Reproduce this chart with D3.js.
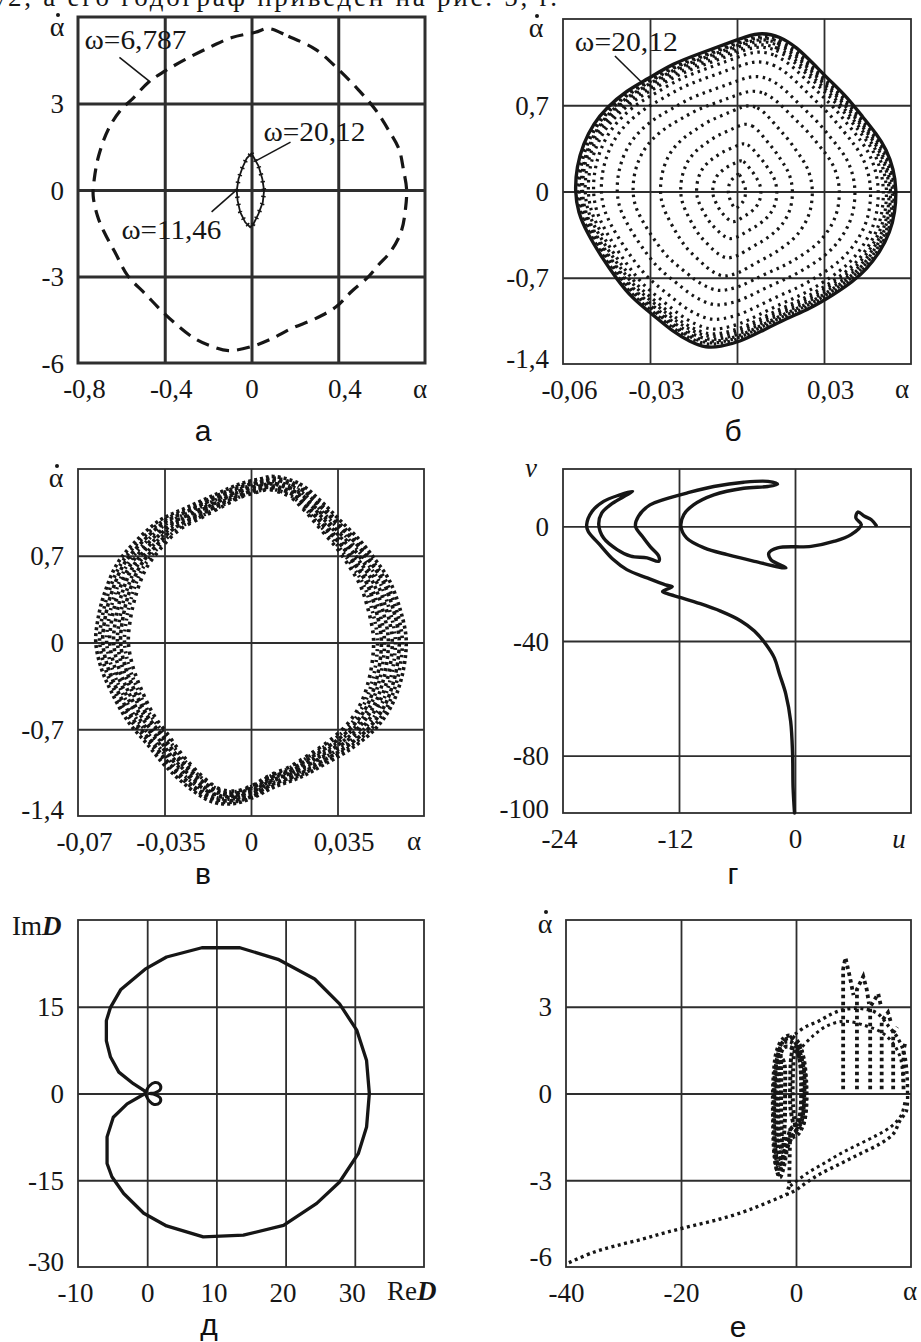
<!DOCTYPE html>
<html>
<head>
<meta charset="utf-8">
<script src="https://cdn.jsdelivr.net/npm/d3@7"></script>
<style>
  body { margin: 0; background: #fff; }
  svg { display: block; }
</style>
</head>
<body>
<svg id="fig" width="921" height="1342"></svg>
<script>
// ---------- panel а : phase portraits for ω=6,787 (dashed) and ω=20,12 / 11,46 (inner) ----------
const aXTicks = [-0.8, -0.4, 0, 0.4];
const aXLabels = ["-0,8", "-0,4", "0", "0,4"];
const aYTicks = [-6, -3, 0, 3];
const aYLabels = ["-6", "-3", "0", "3"];
const aOuter = [
  [0.078,5.6],[0.17,5.33],[0.295,4.88],[0.40,4.19],[0.49,3.5],[0.57,2.8],[0.63,2.1],[0.68,1.42],
  [0.70,0.73],[0.715,0.03],[0.71,-0.66],[0.69,-1.45],[0.64,-2.15],[0.585,-2.6],[0.54,-3.0],[0.46,-3.53],
  [0.39,-4.05],[0.295,-4.46],[0.185,-4.8],[0.092,-5.16],[0.0,-5.43],[-0.106,-5.57],[-0.18,-5.43],
  [-0.26,-5.16],[-0.35,-4.64],[-0.415,-4.19],[-0.49,-3.6],[-0.57,-2.98],[-0.63,-2.15],[-0.68,-1.45],
  [-0.71,-0.9],[-0.73,-0.2],[-0.725,0.38],[-0.705,1.18],[-0.66,2.11],[-0.6,2.8],[-0.55,3.15],
  [-0.475,3.74],[-0.4,4.12],[-0.305,4.53],[-0.185,4.98],[-0.09,5.29],[0.018,5.47]
];
const aInner = [
  [0,1.27],[0.032,0.84],[0.05,0.38],[0.058,-0.02],[0.052,-0.43],[0.032,-0.83],[0.009,-1.18],
  [-0.006,-1.29],[-0.029,-1.12],[-0.052,-0.77],[-0.064,-0.37],[-0.068,-0.02],[-0.06,0.38],
  [-0.041,0.79],[-0.022,1.1]
];
// label text, text anchor (data units), leader from -> to (data units)
const aNotes = [
  { text: "ω=6,787", at: [-0.77, 4.88], from: [-0.609, 4.6], to: [-0.466, 3.74] },
  { text: "ω=20,12", at: [0.055, 1.7], from: [0.18, 1.66], to: [0.018, 1.0] },
  { text: "ω=11,46", at: [-0.6, -1.7], from: [-0.184, -0.76], to: [-0.074, -0.03] }
];

// ---------- panel б : spiral winding onto the ω=20,12 cycle ----------
const bXTicks = [-0.06, -0.03, 0, 0.03];
const bXLabels = ["-0,06", "-0,03", "0", "0,03"];
const bYTicks = [-1.4, -0.7, 0, 0.7];
const bYLabels = ["-1,4", "-0,7", "0", "0,7"];
const bOuter = [
  [0.0085,1.29],[0.0148,1.26],[0.0206,1.17],[0.0262,1.04],[0.032,0.90],[0.0378,0.77],[0.0435,0.60],
  [0.048,0.47],[0.0516,0.34],[0.054,0.18],[0.055,0.016],[0.0545,-0.17],[0.0528,-0.33],[0.0493,-0.49],
  [0.0447,-0.63],[0.040,-0.73],[0.0331,-0.84],[0.0252,-0.95],[0.0171,-1.03],[0.0079,-1.14],
  [0.001,-1.22],[-0.0059,-1.26],[-0.0105,-1.27],[-0.0162,-1.22],[-0.022,-1.14],[-0.029,-1.0],
  [-0.036,-0.87],[-0.0415,-0.71],[-0.047,-0.52],[-0.0518,-0.33],[-0.0548,-0.17],[-0.0559,0],
  [-0.0553,0.2],[-0.053,0.39],[-0.0495,0.55],[-0.045,0.68],[-0.038,0.82],[-0.031,0.91],
  [-0.022,1.04],[-0.0128,1.12],[-0.0036,1.2],[0.0033,1.26]
];
// half-widths along α and half-heights along α̇ of the successive turns
const bTurnsX = [0.003, 0.0084, 0.014, 0.0195, 0.0265, 0.036, 0.0415, 0.047, 0.0497, 0.0515, 0.0526, 0.0535, 0.054, 0.0547, 0.0553];
const bTurnsY = [0.14, 0.25, 0.39, 0.55, 0.70, 0.82, 0.94, 1.06, 1.14, 1.18, 1.20, 1.225, 1.24, 1.255, 1.265];
const bNote = { text: "ω=20,12", at: [-0.0559, 1.142], from: [-0.0421, 1.10], to: [-0.0328, 0.885] };

// ---------- panel в : band of turns ----------
const cXTicks = [-0.07, -0.035, 0, 0.035];
const cXLabels = ["-0,07", "-0,035", "0", "0,035"];
const cYTicks = [-1.4, -0.7, 0, 0.7];
const cYLabels = ["-1,4", "-0,7", "0", "0,7"];
const cOuter = [
  [0.009,1.34],[0.0197,1.28],[0.0278,1.15],[0.0358,0.99],[0.0438,0.83],[0.0506,0.66],[0.056,0.50],
  [0.060,0.29],[0.0626,0.07],[0.0626,-0.09],[0.0606,-0.31],[0.0566,-0.52],[0.0506,-0.69],
  [0.041,-0.85],[0.030,-0.98],[0.0197,-1.09],[0.009,-1.17],[0.001,-1.25],[-0.0071,-1.30],
  [-0.0152,-1.29],[-0.0232,-1.20],[-0.034,-1.01],[-0.042,-0.82],[-0.050,-0.63],[-0.0567,-0.39],
  [-0.0607,-0.2],[-0.0628,0.0],[-0.062,0.18],[-0.0594,0.39],[-0.054,0.64],[-0.046,0.83],
  [-0.0366,0.99],[-0.0259,1.09],[-0.0138,1.20],[-0.0044,1.28],[0.0036,1.32]
];
const cTurnsX = [1, 0.975, 0.955, 0.93, 0.91, 0.885, 0.86, 0.84, 0.815, 0.79];
const cTurnsY = [1, 0.99, 0.98, 0.97, 0.96, 0.955, 0.945, 0.935, 0.925, 0.92];

// ---------- panel г : trajectory in (u, v) ----------
const gXTicks = [-24, -12, 0];
const gXLabels = ["-24", "-12", "0"];
const gYTicks = [-100, -80, -40, 0];
const gYLabels = ["-100", "-80", "-40", "0"];
const gPath = [
  [-0.05,-100],[-0.2,-91],[-0.25,-79.4],[-0.45,-68],[-0.95,-58.5],[-1.6,-51.6],[-2.15,-45.8],
  [-3.0,-41.2],[-4.2,-36.5],[-5.6,-33.0],[-7.7,-29.6],[-9.8,-27.0],[-11.8,-24.9],[-13.2,-23.5],
  [-13.7,-22.7],[-12.7,-21.0],[-13.4,-20.4],[-15.3,-18.0],[-17.4,-15.1],[-18.8,-11.6],[-20.2,-6.4],
  [-21.4,-1.7],[-21.55,0.6],[-21.0,5.2],[-19.8,8.7],[-18.1,11.0],[-16.8,12.2],[-17.7,10.4],
  [-19.1,7.5],[-20.0,4.6],[-20.3,0.6],[-19.8,-4.1],[-18.4,-8.1],[-17.0,-10.4],[-15.3,-11.0],
  [-14.1,-12.2],[-14.1,-10.4],[-15.0,-7.0],[-15.8,-3.5],[-16.5,0],[-16.2,3.5],[-15.0,7.5],
  [-13.6,9.3],[-11.2,11.6],[-8.4,13.9],[-5.3,15.4],[-2.8,15.7],[-1.8,14.7],[-2.8,13.9],[-5.3,13.3],
  [-8.4,11.0],[-10.5,7.5],[-11.5,4.1],[-11.8,0],[-11.2,-4.1],[-9.4,-7.5],[-7.0,-9.9],[-4.2,-12.2],
  [-0.94,-14.5],[-2.5,-11.6],[-2.7,-9.3],[-1.8,-7.5],[1.66,-7.0],[4.1,-5.2],[5.8,-2.9],[6.86,0.6],
  [6.3,2.9],[6.5,5.0],[7.2,3.5],[7.9,2.3],[8.4,0.3]
];

// ---------- panel д : hodograph of D ----------
const dXTicks = [-10, 0, 10, 20, 30];
const dXLabels = ["-10", "0", "10", "20", "30"];
const dYTicks = [-30, -15, 0, 15];
const dYLabels = ["-30", "-15", "0", "15"];
const dCurve = [
  [-0.05,0.2],[-2.0,1.7],[-4.1,3.7],[-5.3,6.3],[-5.9,9.1],[-5.9,12.6],[-5.3,14.9],[-3.8,18.0],
  [-0.3,21.5],[2.8,23.6],[7.9,25.2],[13.4,25.2],[18.9,23.2],[24.2,19.8],[27.8,15.5],[30.3,10.9],
  [31.7,5.7],[32.1,0],[31.7,-5.8],[30.5,-10.4],[27.8,-15.3],[24.5,-19.0],[19.7,-22.8],[13.9,-24.5],
  [8.1,-24.8],[2.8,-22.9],[-0.5,-20.7],[-3.4,-17.3],[-5.1,-14.4],[-5.8,-12.1],[-5.8,-7.5],
  [-4.9,-4.1],[-2.9,-1.8],[-0.3,0]
];
const dLoop = [
  [-0.3,0],[0.3,1.3],[1.1,1.9],[1.8,1.6],[1.9,0.7],[1.1,0.1],[0.3,0],[1.1,-0.2],[1.9,-0.8],
  [1.8,-1.6],[1.0,-1.9],[0.3,-1.3],[-0.3,0]
];

// ---------- panel е : transient phase portrait ----------
const eXTicks = [-40, -20, 0];
const eXLabels = ["-40", "-20", "0"];
const eYTicks = [-6, -3, 0, 3];
const eYLabels = ["-6", "-3", "0", "3"];
const eTail = [
  [-39.5,-5.85],[-35.2,-5.49],[-31.2,-5.26],[-26.6,-5.03],[-22.5,-4.8],[-17.9,-4.57],[-13.2,-4.34],
  [-9.2,-4.1],[-6.3,-3.88],[-2.8,-3.59],[-0.2,-3.36],[1.9,-3.07],[4.2,-2.78],[7.7,-2.43],
  [11.1,-2.09],[14.6,-1.74],[16.9,-1.4],[18.1,-0.93],[19.2,-0.6],[19.4,0]
];
const eTail2 = [
  [-1.0,-3.2],[2.0,-2.75],[5.0,-2.4],[8.0,-2.05],[11.0,-1.75],[14.0,-1.45],[16.5,-1.15],
  [18.3,-0.75],[19.0,-0.2]
];
const eArch = [
  [19.4,0],[19.3,0.7],[18.8,1.4],[17.6,1.95],[16.2,2.3],[14.3,2.75],[12.5,2.9],[10.5,2.95],
  [8.2,2.9],[6.2,2.75],[3.9,2.5],[1.6,2.3],[-0.2,2.05],[-1.3,1.9]
];
const eArch2 = [
  [18.6,0.4],[18.2,1.2],[17.0,1.7],[15.0,2.1],[12.0,2.35],[8.5,2.5],[5.5,2.35],[3.0,2.0],[1.0,1.6]
];
const eComb = [
  [[8.2,0.15],[8.2,4.3],[8.6,4.7],[9.4,4.0],[10.0,3.4]],
  [[10.6,0.15],[10.6,3.6],[11.7,4.05],[12.3,3.6],[12.7,3.1]],
  [[12.9,0.15],[12.9,3.0],[14.3,3.45],[14.8,3.0]],
  [[14.9,0.15],[14.9,2.5],[16.0,2.8],[16.6,2.4]],
  [[16.9,0.15],[16.9,2.1],[17.6,2.3]],
  [[18.7,0.15],[18.7,1.5],[19.0,1.75]]
];
const eLoops = [
  [[-1.0,2.0],[0.6,1.7],[1.5,0.8],[1.7,-0.3],[1.2,-1.1],[0,-1.3],[-1.3,-1.5],[-2.4,-2.4],[-3.0,-2.8],
   [-3.7,-2.2],[-4.0,-0.8],[-3.9,0.6],[-3.3,1.5],[-2.2,1.9]],
  [[-1.0,1.6],[0.3,1.4],[1.0,0.6],[1.1,-0.4],[0.5,-1.0],[-0.8,-1.2],[-2.0,-2.0],[-2.6,-2.3],
   [-3.2,-1.8],[-3.4,-0.6],[-3.3,0.6],[-2.8,1.3],[-2.0,1.6]],
  [[-0.8,1.9],[0.9,1.5],[1.8,0.3],[1.5,-0.9],[0.4,-1.4],[-1.0,-1.6],[-2.2,-2.6],[-2.8,-2.9],
   [-3.5,-2.5],[-3.8,-1.2],[-3.7,0.3],[-3.2,1.3],[-2.0,1.85]],
  [[-0.3,1.7],[0.6,1.2],[0.9,0.2],[0.6,-0.8],[-0.2,-1.1],[-0.9,-0.6],[-1.0,0.4],[-0.8,1.3]],
  [[-1.2,1.8],[0.2,1.6],[1.3,0.9],[1.4,-0.2],[0.9,-1.0],[-0.4,-1.4],[-1.6,-1.9],[-2.7,-2.6],
   [-3.3,-2.4],[-3.6,-1.4],[-3.6,0.0],[-3.4,1.0],[-2.6,1.7]],
  [[-2.4,1.2],[-3.0,0.5],[-3.1,-0.6],[-2.9,-1.6],[-2.4,-2.0],[-2.0,-1.2],[-1.9,0.0],[-2.0,1.0]],
  [[-0.1,1.5],[1.2,1.1],[1.5,0.0],[1.0,-0.9],[0.1,-1.2],[-0.5,-0.4],[-0.5,0.8]],
  [[-2.8,1.5],[-3.6,0.8],[-3.9,-0.4],[-3.6,-1.9],[-3.0,-2.6],[-2.5,-2.0],[-2.6,-0.6],[-2.6,0.8]]
];
const eDrop = [[-1.0,-1.2],[-1.1,-2.2],[-1.2,-3.2],[-1.6,-3.5]];

// ---------- drawing ----------
const svg = d3.select("#fig");
const SERIF = '"Liberation Serif","Times New Roman",serif';
const SANS = '"Liberation Sans",Arial,sans-serif';
const INK = "#161616";
const GRID = "#2e2e2e";

// text line cut by the top edge of the page
svg.append("text")
  .attr("x", -7).attr("y", 6)
  .attr("font-family", SERIF).attr("font-size", 27).attr("fill", INK)
  .attr("textLength", 564).attr("lengthAdjust", "spacing")
  .text("ν2, а его годограф приведен на рис. 5, г.");

function makePanel(o) {
  const g = svg.append("g");
  const x = d3.scaleLinear().domain(o.xDomain).range([o.left, o.right]);
  const y = d3.scaleLinear().domain(o.yDomain).range([o.bottom, o.top]);
  const w = o.right - o.left, h = o.bottom - o.top;

  const gx = g.append("g").attr("transform", `translate(0,${o.bottom})`)
    .call(d3.axisBottom(x).tickValues(o.xGrid).tickSize(-h).tickFormat(""));
  const gy = g.append("g").attr("transform", `translate(${o.left},0)`)
    .call(d3.axisLeft(y).tickValues(o.yGrid).tickSize(-w).tickFormat(""));
  [gx, gy].forEach(a => {
    a.select(".domain").remove();
    a.selectAll("line").attr("stroke", GRID).attr("stroke-width", o.gw);
  });
  g.append("rect")
    .attr("x", o.left).attr("y", o.top).attr("width", w).attr("height", h)
    .attr("fill", "none").attr("stroke", GRID).attr("stroke-width", o.gw);

  const lx = g.append("g").attr("transform", `translate(0,${o.bottom})`)
    .call(d3.axisBottom(x).tickValues(o.xTicks).tickFormat((d, i) => o.xLabels[i]).tickSize(0));
  lx.select(".domain").remove();
  lx.attr("font-family", SERIF).attr("font-size", 27);
  lx.selectAll("text").attr("y", 35).attr("dy", 0).attr("fill", INK)
    .attr("dx", d => (d === 0 ? 0 : o.xdx));

  const ly = g.append("g").attr("transform", `translate(${o.left},0)`)
    .call(d3.axisLeft(y).tickValues(o.yTicks).tickFormat((d, i) => o.yLabels[i]).tickSize(0));
  ly.select(".domain").remove();
  ly.attr("font-family", SERIF).attr("font-size", 27);
  ly.selectAll("text").attr("x", -14).attr("fill", INK)
    .attr("dy", d => (d === o.yDomain[0] ? o.bottomDy : 9));

  const line = d3.line().x(d => x(d[0])).y(d => y(d[1]));
  return { g, x, y, line };
}

// α with the dot of the time derivative above it
function dotAlpha(g, cx, baseline) {
  g.append("text").attr("x", cx).attr("y", baseline)
    .attr("text-anchor", "middle").attr("font-family", SERIF).attr("font-size", 28).attr("fill", INK)
    .text("α");
  g.append("circle").attr("cx", cx + 1).attr("cy", baseline - 21).attr("r", 2).attr("fill", INK);
}
function plainLabel(g, cx, baseline, txt, italic, anchor) {
  g.append("text").attr("x", cx).attr("y", baseline)
    .attr("text-anchor", anchor || "middle").attr("font-family", SERIF).attr("font-size", 27)
    .attr("font-style", italic ? "italic" : "normal").attr("fill", INK).text(txt);
}
function panelLetter(cx, baseline, txt) {
  svg.append("text").attr("x", cx).attr("y", baseline)
    .attr("text-anchor", "middle").attr("font-family", SANS).attr("font-size", 30).attr("fill", "#111")
    .text(txt);
}
function note(P, n, width) {
  P.g.append("line")
    .attr("x1", P.x(n.from[0])).attr("y1", P.y(n.from[1]))
    .attr("x2", P.x(n.to[0])).attr("y2", P.y(n.to[1]))
    .attr("stroke", INK).attr("stroke-width", 1.6);
  P.g.append("text").attr("x", P.x(n.at[0])).attr("y", P.y(n.at[1]))
    .attr("font-family", SERIF).attr("font-size", 27).attr("fill", INK)
    .attr("textLength", width).attr("lengthAdjust", "spacingAndGlyphs")
    .text(n.text);
}

// ----- а -----
const A = makePanel({
  left: 78, right: 425, top: 17, bottom: 363, gw: 3,
  xDomain: [-0.8, 0.8], yDomain: [-6, 6], xGrid: [-0.4, 0, 0.4], yGrid: [-3, 0, 3],
  xTicks: aXTicks, xLabels: aXLabels, yTicks: aYTicks, yLabels: aYLabels, xdx: 6, bottomDy: 9
});
A.g.append("path")
  .attr("d", A.line.curve(d3.curveCatmullRomClosed)(aOuter))
  .attr("fill", "none").attr("stroke", INK).attr("stroke-width", 3.2).attr("stroke-dasharray", "13,8");
A.g.append("path")
  .attr("d", A.line.curve(d3.curveLinearClosed)(aInner))
  .attr("fill", "none").attr("stroke", INK).attr("stroke-width", 1.8);
A.g.append("path")
  .attr("d", A.line.curve(d3.curveLinearClosed)(aInner))
  .attr("fill", "none").attr("stroke", INK).attr("stroke-width", 4.5).attr("stroke-dasharray", "1.5,6");
note(A, aNotes[0], 102);
note(A, aNotes[1], 102);
note(A, aNotes[2], 100);
dotAlpha(A.g, 57, 36);
plainLabel(A.g, 420, 398, "α");
panelLetter(203, 441, "а");

// ----- б -----
const B = makePanel({
  left: 563, right: 911, top: 19, bottom: 364, gw: 1.8,
  xDomain: [-0.06, 0.06], yDomain: [-1.4, 1.4], xGrid: [-0.03, 0, 0.03], yGrid: [-0.7, 0, 0.7],
  xTicks: bXTicks, xLabels: bXLabels, yTicks: bYTicks, yLabels: bYLabels, xdx: 6, bottomDy: 3
});
const bNX = d3.max(bOuter, d => Math.abs(d[0]));
const bNY = d3.max(bOuter, d => Math.abs(d[1]));
bTurnsX.forEach((ax, i) => {
  const ay = bTurnsY[i];
  const turn = bOuter.map(d => [d[0] / bNX * ax, d[1] / bNY * ay]);
  B.g.append("path")
    .attr("d", B.line.curve(d3.curveBasisClosed)(turn))
    .attr("fill", "none").attr("stroke", INK).attr("stroke-width", 3.2).attr("stroke-dasharray", "2.5,4.5");
});
B.g.append("path")
  .attr("d", B.line.curve(d3.curveBasisClosed)(bOuter))
  .attr("fill", "none").attr("stroke", INK).attr("stroke-width", 3.4);
note(B, bNote, 103);
dotAlpha(B.g, 536, 37);
plainLabel(B.g, 902, 398, "α");
panelLetter(733, 441, "б");

// ----- в -----
const C = makePanel({
  left: 78, right: 424, top: 469, bottom: 816, gw: 1.8,
  xDomain: [-0.07, 0.07], yDomain: [-1.4, 1.4], xGrid: [-0.035, 0, 0.035], yGrid: [-0.7, 0, 0.7],
  xTicks: cXTicks, xLabels: cXLabels, yTicks: cYTicks, yLabels: cYLabels, xdx: 6, bottomDy: 2
});
const cDash = ["3,3", "2.5,4", "3.5,3", "2,3.5", "3,4.5"];
cTurnsX.forEach((sx, i) => {
  const sy = cTurnsY[i];
  const turn = cOuter.map(d => [d[0] * sx, d[1] * sy]);
  C.g.append("path")
    .attr("d", C.line.curve(d3.curveCatmullRomClosed)(turn))
    .attr("fill", "none").attr("stroke", INK).attr("stroke-width", 3.6)
    .attr("stroke-dasharray", cDash[i % cDash.length]).attr("stroke-dashoffset", i * 1.3);
});
dotAlpha(C.g, 56, 487);
plainLabel(C.g, 414, 850, "α");
panelLetter(203, 884, "в");

// ----- г -----
const G = makePanel({
  left: 563, right: 911, top: 469, bottom: 813, gw: 1.8,
  xDomain: [-24, 12], yDomain: [-100, 20], xGrid: [-12, 0], yGrid: [-80, -40, 0],
  xTicks: gXTicks, xLabels: gXLabels, yTicks: gYTicks, yLabels: gYLabels, xdx: -4, bottomDy: 4
});
G.g.append("path")
  .attr("d", G.line.curve(d3.curveCatmullRom.alpha(0.5))(gPath))
  .attr("fill", "none").attr("stroke", INK).attr("stroke-width", 3.4)
  .attr("stroke-linejoin", "round").attr("stroke-linecap", "round");
plainLabel(G.g, 531, 477, "v", true);
plainLabel(G.g, 899, 848, "u", true);
panelLetter(733, 884, "г");

// ----- д -----
const D = makePanel({
  left: 78, right: 424, top: 920, bottom: 1267, gw: 1.8,
  xDomain: [-10, 40], yDomain: [-30, 30], xGrid: [0, 10, 20, 30], yGrid: [-15, 0, 15],
  xTicks: dXTicks, xLabels: dXLabels, yTicks: dYTicks, yLabels: dYLabels, xdx: -3, bottomDy: 3
});
D.g.append("path")
  .attr("d", D.line.curve(d3.curveLinear)(dCurve))
  .attr("fill", "none").attr("stroke", INK).attr("stroke-width", 3.3).attr("stroke-linejoin", "round");
D.g.append("path")
  .attr("d", D.line.curve(d3.curveCatmullRom)(dLoop))
  .attr("fill", "none").attr("stroke", INK).attr("stroke-width", 3);
{
  const t = D.g.append("text").attr("x", 12).attr("y", 935)
    .attr("font-family", SERIF).attr("font-size", 27).attr("fill", INK);
  t.append("tspan").text("Im");
  t.append("tspan").attr("font-style", "italic").attr("font-weight", "bold").text("D");
  const r = D.g.append("text").attr("x", 387).attr("y", 1300)
    .attr("font-family", SERIF).attr("font-size", 27).attr("fill", INK);
  r.append("tspan").text("Re");
  r.append("tspan").attr("font-style", "italic").attr("font-weight", "bold").text("D");
}
panelLetter(209, 1335, "д");

// ----- е -----
const E = makePanel({
  left: 566, right: 911, top: 920, bottom: 1267, gw: 1.8,
  xDomain: [-40, 20], yDomain: [-6, 6], xGrid: [-20, 0], yGrid: [-3, 0, 3],
  xTicks: eXTicks, xLabels: eXLabels, yTicks: eYTicks, yLabels: eYLabels, xdx: 0, bottomDy: -2
});
const eDots = (pts, curve, w, dash) => E.g.append("path")
  .attr("d", E.line.curve(curve)(pts))
  .attr("fill", "none").attr("stroke", INK).attr("stroke-width", w || 3.4)
  .attr("stroke-dasharray", dash || "3,3.5");
eDots(eTail, d3.curveCatmullRom);
eDots(eTail2, d3.curveCatmullRom, 3);
eDots(eArch, d3.curveCatmullRom);
eDots(eArch2, d3.curveCatmullRom, 3);
eComb.forEach(c => eDots(c, d3.curveLinear, 3.8, "3.5,3.5"));
eLoops.forEach((l, i) => eDots(l, d3.curveCatmullRomClosed, 4, i % 2 ? "3.5,2.5" : "3,3"));
eDots(eDrop, d3.curveLinear, 3.8);
dotAlpha(E.g, 545, 933);
plainLabel(E.g, 910, 1300, "α");
panelLetter(738, 1337, "е");
</script>
</body>
</html>
